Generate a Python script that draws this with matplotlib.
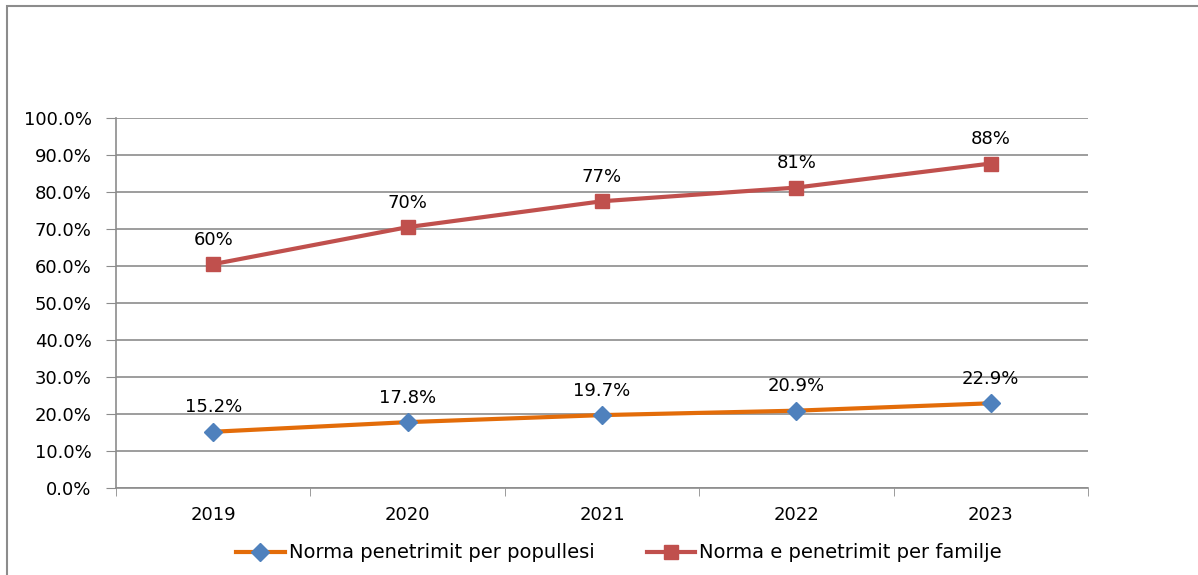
import matplotlib
matplotlib.use('Agg')
import matplotlib.pyplot as plt
from matplotlib.patches import Rectangle
from matplotlib.ticker import FuncFormatter, FixedLocator

plt.rcParams['font.family'] = 'DejaVu Sans'

years = ['2019', '2020', '2021', '2022', '2023']
pop_rate = [0.152, 0.178, 0.197, 0.209, 0.229]
fam_rate = [0.605, 0.705, 0.775, 0.812, 0.877]
pop_labels = ['15.2%', '17.8%', '19.7%', '20.9%', '22.9%']
fam_labels = ['60%', '70%', '77%', '81%', '88%']

fig = plt.figure(figsize=(11.98, 5.75), dpi=100)
# outer chart frame
fig.patches.append(Rectangle((7 / 1198, -0.05), 1.2, 1 - 6 / 575 + 0.05,
                             transform=fig.transFigure, fill=False,
                             edgecolor='#8c8c8c', linewidth=1.5))

ax = fig.add_axes([116 / 1198, 1 - 488 / 575, (1088 - 116) / 1198, (488 - 118) / 575])
x = list(range(len(years)))

ax.plot(x, pop_rate, color='#E36C09', linewidth=3, marker='D', markersize=9,
        markerfacecolor='#4F81BD', markeredgecolor='#4F81BD',
        label='Norma penetrimit per popullesi')
ax.plot(x, fam_rate, color='#C0504D', linewidth=3, marker='s', markersize=10,
        markerfacecolor='#C0504D', markeredgecolor='#C0504D',
        label='Norma e penetrimit per familje')

for xi, v, t in zip(x, pop_rate, pop_labels):
    ax.annotate(t, (xi, v), xytext=(0, 17.5), textcoords='offset points',
                ha='center', va='center', fontsize=13)
for xi, v, t in zip(x, fam_rate, fam_labels):
    ax.annotate(t, (xi, v), xytext=(0, 17.5), textcoords='offset points',
                ha='center', va='center', fontsize=13)

ax.set_xlim(-0.5, 4.5)
ax.set_ylim(0, 1.0)
ax.set_yticks([i / 10 for i in range(11)])
ax.yaxis.set_major_formatter(FuncFormatter(lambda v, p: f'{v * 100:.1f}%'))
ax.set_xticks(x)
ax.set_xticklabels(years)
ax.xaxis.set_minor_locator(FixedLocator([-0.5, 0.5, 1.5, 2.5, 3.5, 4.5]))
ax.tick_params(axis='x', which='major', length=0, pad=13, labelsize=13)
ax.tick_params(axis='x', which='minor', length=6, color='#8c8c8c', direction='out')
ax.tick_params(axis='y', length=7, color='#8c8c8c', direction='out', pad=10.5, labelsize=13)
ax.grid(axis='y', color='#8c8c8c', linewidth=1.2)
ax.set_axisbelow(True)
for s in ['top', 'right']:
    ax.spines[s].set_visible(False)
for s in ['left', 'bottom']:
    ax.spines[s].set_color('#8c8c8c')
    ax.spines[s].set_linewidth(1.2)

fig.legend(loc='center', bbox_to_anchor=(619 / 1198, 1 - 553 / 575), ncol=2, frameon=False,
           prop={'size': 14}, handlelength=2.5, columnspacing=2.7, handletextpad=0.2)

fig.savefig('out.png', dpi=100)
